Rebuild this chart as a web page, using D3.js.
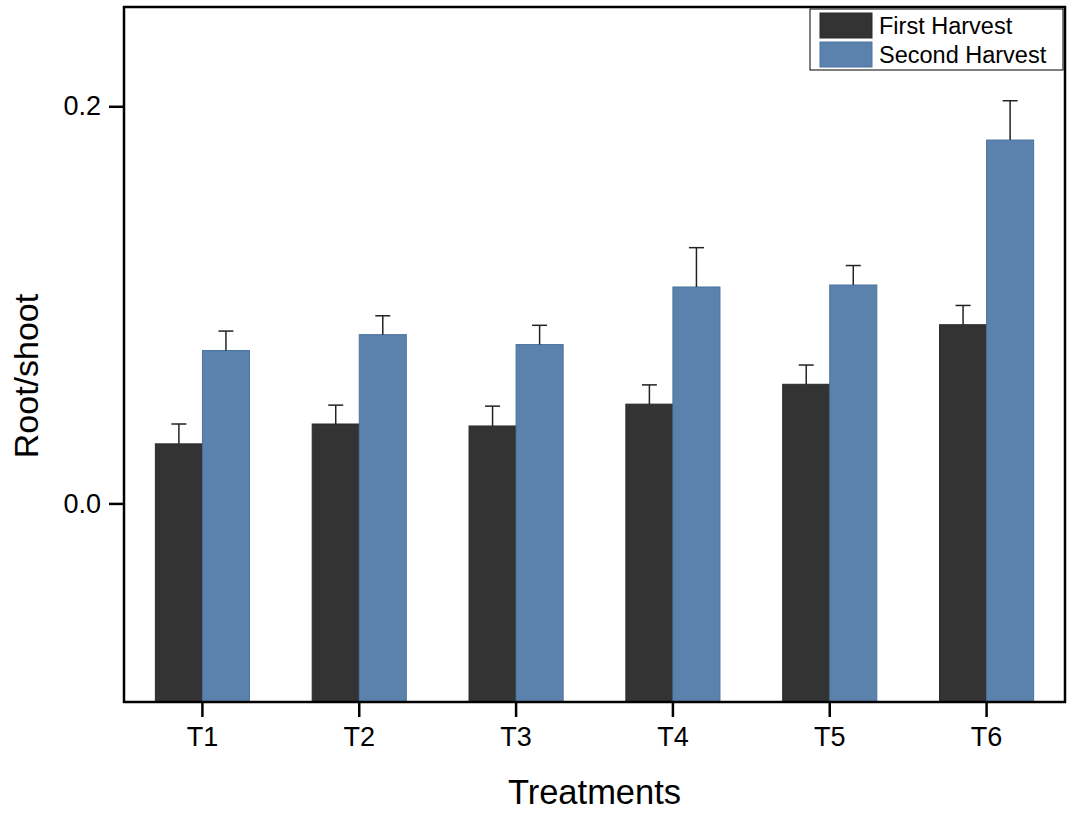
<!DOCTYPE html>
<html>
<head>
<meta charset="utf-8">
<script src="https://cdn.jsdelivr.net/npm/d3@7"></script>
<style>
  body { margin: 0; background: #fff; }
  text { font-family: "Liberation Sans", Arial, sans-serif; }
</style>
</head>
<body>
<div id="chart"></div>
<script>
//All the data
var treatments = ["T1", "T2", "T3", "T4", "T5", "T6"];
var seriesNames = ["First Harvest", "Second Harvest"];
var firstHarvest = [0.030, 0.040, 0.039, 0.050, 0.060, 0.090];
var firstErr = [0.010, 0.0095, 0.010, 0.0097, 0.0097, 0.0097];
var secondHarvest = [0.077, 0.085, 0.080, 0.109, 0.110, 0.183];
var secondErr = [0.0098, 0.0095, 0.0097, 0.0198, 0.0098, 0.0198];
var yTicks = [0.0, 0.2];

var w = 1076, h = 813;
var margin = { top: 7, right: 11, bottom: 111, left: 124 };
var width = w - margin.left - margin.right;
var height = h - margin.top - margin.bottom;
var colors = ["#333333", "#5b82ac"];
var strokes = ["#2a2a2a", "#4a72a0"];

var data = treatments.map(function(t, i) {
  return { t: t, vals: [
    { s: 0, v: firstHarvest[i], e: firstErr[i] },
    { s: 1, v: secondHarvest[i], e: secondErr[i] }
  ]};
});

var svg = d3.select("#chart")
  .append("svg")
    .attr("width", w)
    .attr("height", h);

var g = svg.append("g")
  .attr("transform", "translate(" + margin.left + "," + margin.top + ")");

// Scales
var x = d3.scaleBand().domain(treatments).range([0, width]);
var bw = x.bandwidth() * 0.3;
var xs = d3.scaleBand().domain([0, 1]).range([x.bandwidth() / 2 - bw, x.bandwidth() / 2 + bw]);
var y = d3.scaleLinear().domain([-0.1, 0.25]).range([height, 0]);

//Bars
var groups = g.selectAll(".grp")
  .data(data)
  .enter()
  .append("g")
    .attr("transform", function(d) { return "translate(" + x(d.t) + ",0)"; });

groups.selectAll("rect")
  .data(function(d) { return d.vals; })
  .enter()
  .append("rect")
    .attr("x", function(d) { return xs(d.s); })
    .attr("y", function(d) { return y(d.v); })
    .attr("width", xs.bandwidth())
    .attr("height", function(d) { return y(-0.1) - y(d.v); })
    .attr("fill", function(d) { return colors[d.s]; })
    .attr("stroke", function(d) { return strokes[d.s]; })
    .attr("stroke-width", 1);

// Error bars
var errs = groups.selectAll(".err")
  .data(function(d) { return d.vals; })
  .enter()
  .append("g")
    .attr("stroke", "#222")
    .attr("stroke-width", 1.5);

errs.append("line")
  .attr("x1", function(d) { return xs(d.s) + xs.bandwidth() / 2; })
  .attr("x2", function(d) { return xs(d.s) + xs.bandwidth() / 2; })
  .attr("y1", function(d) { return y(d.v); })
  .attr("y2", function(d) { return y(d.v + d.e); });

errs.append("line")
  .attr("x1", function(d) { return xs(d.s) + xs.bandwidth() / 2 - 7.5; })
  .attr("x2", function(d) { return xs(d.s) + xs.bandwidth() / 2 + 7.5; })
  .attr("y1", function(d) { return y(d.v + d.e); })
  .attr("y2", function(d) { return y(d.v + d.e); });

// Axes
var xAxis = g.append("g")
  .attr("transform", "translate(0," + height + ")")
  .call(d3.axisBottom(x).tickSize(15).tickPadding(10));
xAxis.select(".domain").remove();

var yAxis = g.append("g")
  .call(d3.axisLeft(y).tickValues(yTicks).tickFormat(d3.format(".1f")).tickSize(15).tickPadding(8));
yAxis.select(".domain").remove();

g.selectAll(".tick line").attr("stroke", "#000").attr("stroke-width", 2.5);
g.selectAll(".tick text").attr("fill", "#000").style("font-size", "27px");

// Frame
g.append("rect")
  .attr("width", width)
  .attr("height", height)
  .attr("fill", "none")
  .attr("stroke", "#000")
  .attr("stroke-width", 2.5);

// Axis titles
svg.append("text")
  .attr("x", margin.left + width / 2)
  .attr("y", 804)
  .attr("text-anchor", "middle")
  .style("font-size", "34.5px")
  .text("Treatments");

svg.append("text")
  .attr("transform", "translate(38,376) rotate(-90)")
  .attr("text-anchor", "middle")
  .style("font-size", "34px")
  .text("Root/shoot");

// Legend
var legend = svg.append("g").attr("transform", "translate(810,9)");
legend.append("rect")
  .attr("width", 253)
  .attr("height", 61)
  .attr("fill", "#fff")
  .attr("stroke", "#000")
  .attr("stroke-width", 1);

seriesNames.forEach(function(name, i) {
  legend.append("rect")
    .attr("x", 10)
    .attr("y", 4 + i * 29)
    .attr("width", 52)
    .attr("height", 25)
    .attr("fill", colors[i])
    .attr("stroke", strokes[i]);
  legend.append("text")
    .attr("x", 69)
    .attr("y", 25 + i * 29)
    .style("font-size", "23.5px")
    .text(name);
});
</script>
</body>
</html>
